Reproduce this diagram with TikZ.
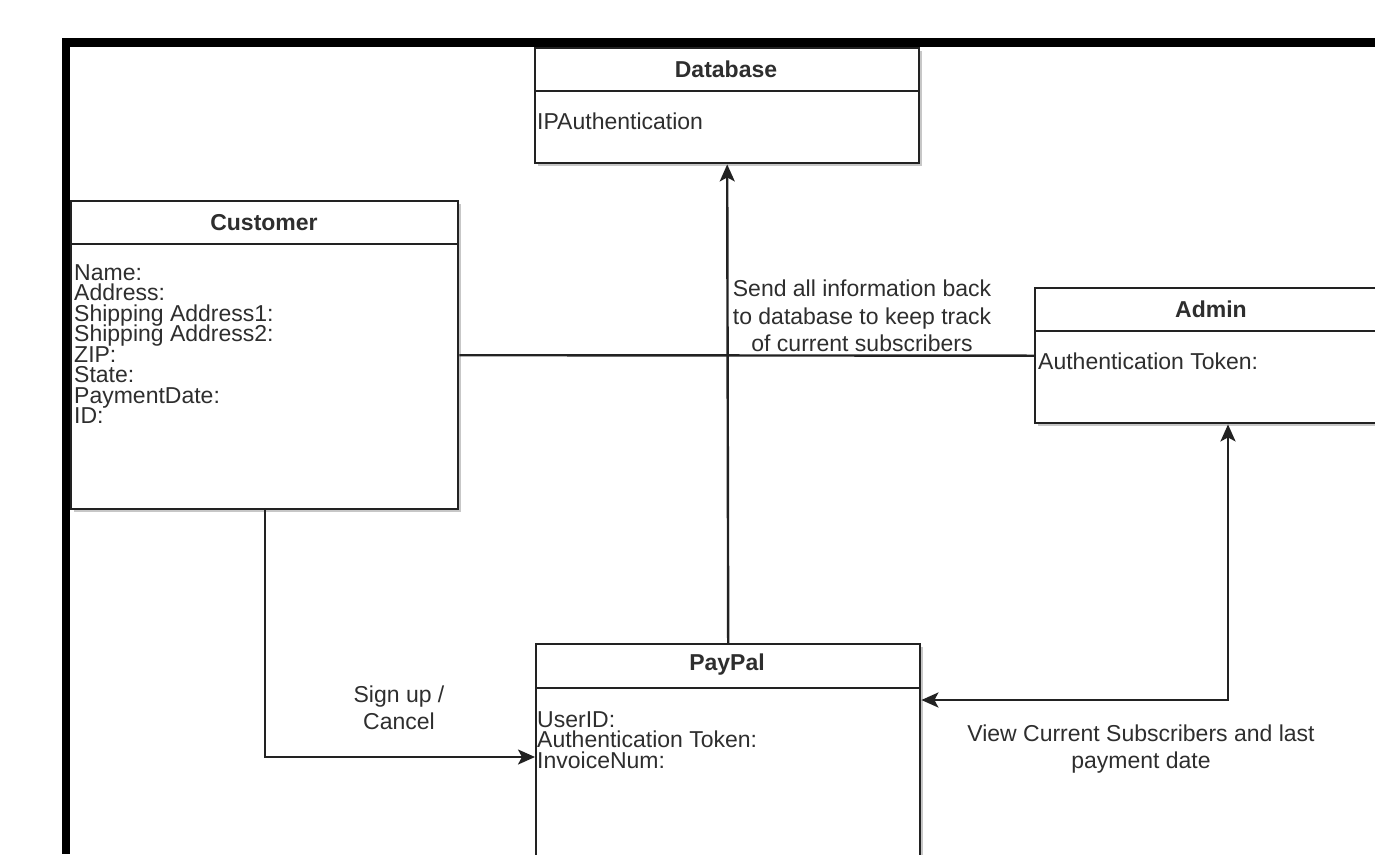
\documentclass[tikz,border=0pt]{standalone}
\usepackage{fontspec}
\setmainfont{Liberation Sans}
\usetikzlibrary{arrows.meta,shadows,calc}
\definecolor{ink}{HTML}{222222}
\definecolor{txt}{HTML}{2E2E2E}
\begin{document}
\begin{tikzpicture}[x=1pt,y=-1pt,
  classbox/.style={draw=ink, line width=2.4pt, fill=white, rectangle, inner sep=0pt, anchor=north west,
    drop shadow={shadow xshift=3pt, shadow yshift=-3pt, opacity=0.22, fill=black}},
  sepline/.style={draw=ink, line width=2.4pt},
  titletext/.style={text=txt, font=\fontsize{23}{27.5}\selectfont\bfseries, inner sep=0pt},
  bodytext/.style={text=txt, font=\fontsize{23}{20.5}\selectfont, inner sep=0pt, anchor=north west, align=left},
  labeltext/.style={text=txt, font=\fontsize{23}{27.5}\selectfont, inner sep=0pt, align=center},
  conn/.style={draw=ink, line width=2.4pt},
  tip/.tip={Stealth[length=17pt, width=15pt, inset=4pt]}
]
\lineskiplimit=-100pt
\useasboundingbox (0,0) rectangle (1375,854);
\clip (0,0) rectangle (1375,854);
\fill[white] (0,0) rectangle (1375,854);

% Database
\node[classbox, minimum width=384pt, minimum height=115pt] (db) at (534,47) {};
\draw[sepline] (534,91) -- (918,91);
\node[titletext] (dbt) at (726,69) {Database};
\node[bodytext] (dbb) at (537,113) {IPAuthentication};

% Customer
\node[classbox, minimum width=387pt, minimum height=308pt] (cust) at (70,200) {};
\draw[sepline] (70,244) -- (457,244);
\node[titletext] (custt) at (264,223) {Customer};
\node[bodytext] (custb) at (74,264) {Name:\\Address:\\Shipping Address1:\\Shipping Address2:\\ZIP:\\State:\\PaymentDate:\\ID:};

% Admin
\node[classbox, minimum width=354pt, minimum height=135pt] (admin) at (1034,287) {};
\draw[sepline] (1034,331) -- (1388,331);
\node[titletext] (admint) at (1211,309) {Admin};
\node[bodytext] (adminb) at (1038,353) {Authentication Token:};

% PayPal
\node[classbox, minimum width=384pt, minimum height=260pt] (paypal) at (535,643) {};
\draw[sepline] (535,688) -- (919,688);
\node[titletext] (paypalt) at (727,665) {PayPal};
\node[bodytext] (paypalb) at (537,711) {UserID:\\Authentication Token:\\InvoiceNum:};

% connectors
\draw[conn] (cust.east) -- (admin.west);
\draw[conn, -{tip}] (paypal.north) -- (db.south);
\draw[conn, -{tip}] (cust.south) |- ($(paypal.north west)+(0,114)$);
\draw[conn, {tip}-{tip}] ($(paypal.north east)+(0,57)$) -| ($(admin.south west)+(194,0)$);

% labels
\node[labeltext] (lsend) at (862,316) {Send all information back\\to database to keep track\\of current subscribers};
\node[labeltext] (lsign) at (399,708) {Sign up /\\Cancel};
\node[labeltext] (lview) at (1141,749) {View Current Subscribers and last\\payment date};

% thick frame
\fill[black] (62,38) rectangle (1375,47);
\fill[black] (62,38) rectangle (70,854);
\end{tikzpicture}
\end{document}
